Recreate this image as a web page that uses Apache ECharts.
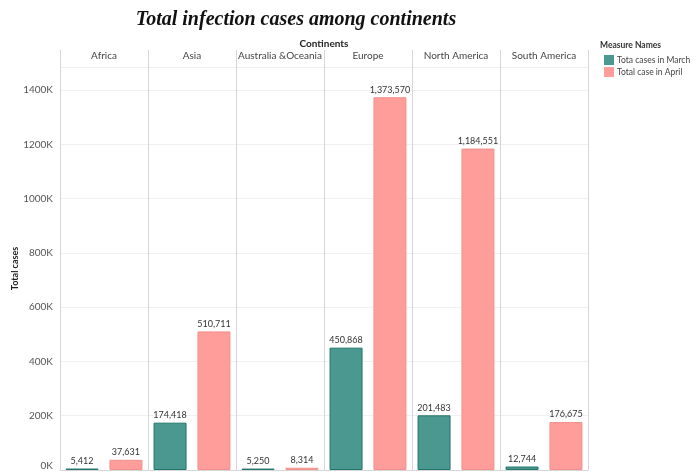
<!DOCTYPE html>
<html><head><meta charset="utf-8">
<script src="https://cdn.jsdelivr.net/npm/echarts@6/dist/echarts.min.js"></script>
<style>html,body{margin:0;padding:0;background:#fff}#c{width:698px;height:474px}</style>
</head><body><div id="c"></div>
<script>
const continents = ['Africa', 'Asia', 'Australia &Oceania', 'Europe', 'North America', 'South America'];
const marchCases = [5412, 174418, 5250, 450868, 201483, 12744];
const aprilCases = [37631, 510711, 8314, 1373570, 1184551, 176675];
const seriesNames = ['Tota cases in March', 'Total case in April'];
const yTicks = [0, 200000, 400000, 600000, 800000, 1000000, 1200000, 1400000];

const font = 'Lato, "Open Sans", sans-serif';
const chart = echarts.init(document.getElementById('c'));
const fmt = v => v.toLocaleString('en-US');
const labelCfg = {show: true, position: 'top', distance: 3, fontFamily: font, fontSize: 9, color: '#333', formatter: p => fmt(p.value)};

chart.setOption({
  animation: false,
  title: {text: 'Total infection cases among continents', left: 291, top: 5, textAlign: 'center',
    textStyle: {fontFamily: '"Liberation Serif", "Times New Roman", serif', fontStyle: 'italic', fontWeight: 'bold', fontSize: 20, color: '#111'}},
  graphic: [
    {type: 'text', style: {text: 'Continents', x: 324, y: 44, textAlign: 'center', textVerticalAlign: 'middle', font: 'bold 10px ' + font, fill: '#222'}},
    {type: 'text', style: {text: 'Measure Names', x: 600, y: 45, textVerticalAlign: 'middle', font: 'bold 8.5px ' + font, fill: '#333'}}
  ],
  legend: {orient: 'vertical', left: 602, top: 53, itemWidth: 10, itemHeight: 10, itemGap: 2, padding: 2,
    icon: 'rect', itemStyle: {borderWidth: 0},
    textStyle: {fontFamily: font, fontSize: 8.5, color: '#444', padding: [0, 0, 0, -2]}, data: seriesNames},
  grid: [
    {left: 60, right: 110, top: 67, bottom: 4, outerBoundsMode: 'none', containLabel: false},
    {left: 60, right: 110, top: 50, height: 17, outerBoundsMode: 'none', containLabel: false}
  ],
  xAxis: [
    {type: 'category', gridIndex: 0, data: continents, position: 'top',
      axisLine: {show: true, lineStyle: {color: '#d6d6d6'}},
      axisTick: {show: false},
      axisLabel: {fontFamily: font, fontSize: 10, color: '#444', margin: 6, interval: 0},
      splitLine: {show: true, interval: 0, lineStyle: {color: '#d6d6d6'}}},
    {type: 'category', gridIndex: 1, data: continents, position: 'bottom',
      axisLine: {show: false}, axisTick: {show: false}, axisLabel: {show: false},
      splitLine: {show: true, interval: 0, lineStyle: {color: '#d6d6d6'}}}
  ],
  yAxis: [
    {type: 'value', gridIndex: 0, min: 0, max: 1485000, interval: 200000,
      name: 'Total cases', nameLocation: 'middle', nameGap: 40, nameRotate: 90, nameMoveOverlap: false,
      nameTextStyle: {fontFamily: font, fontWeight: 'bold', fontSize: 9, color: '#222'},
      axisLine: {show: true, lineStyle: {color: '#d6d6d6'}},
      axisTick: {show: false},
      axisLabel: {fontFamily: font, fontSize: 10, color: '#555', margin: 7,
        formatter: v => v === 0 ? '{z|0K}' : (yTicks.includes(v) ? (v / 1000) + 'K' : ''),
        rich: {z: {fontFamily: font, fontSize: 10, color: '#555', padding: [0, 0, 8, 0]}}},
      splitLine: {show: true, lineStyle: {color: '#f0f0f0'}}},
    {type: 'value', gridIndex: 1, min: 0, max: 1, show: true,
      axisLine: {show: true, lineStyle: {color: '#d6d6d6'}}, axisTick: {show: false},
      axisLabel: {show: false}, splitLine: {show: false}}
  ],
  series: [
    {name: seriesNames[0], type: 'bar', data: marchCases, barWidth: 33, barGap: '33%',
      itemStyle: {color: '#4a9890', borderColor: '#23756b', borderWidth: 1}, label: labelCfg},
    {name: seriesNames[1], type: 'bar', data: aprilCases, barWidth: 33,
      itemStyle: {color: '#ff9d9a', borderColor: '#f3908c', borderWidth: 1}, label: labelCfg}
  ]
});
</script></body></html>
